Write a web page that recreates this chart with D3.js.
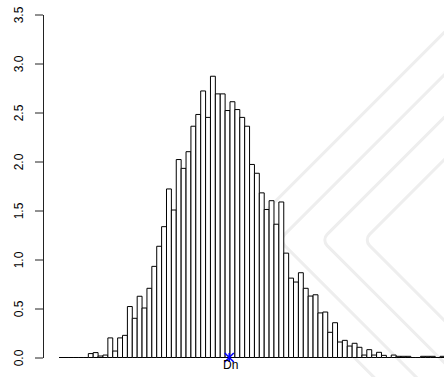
<!DOCTYPE html>
<html>
<head>
<meta charset="utf-8">
<script src="https://cdn.jsdelivr.net/npm/d3@7"></script>
<style>
  html, body { margin: 0; padding: 0; background: #fff; }
  svg { display: block; font-family: "Liberation Sans", Arial, sans-serif; }
</style>
</head>
<body>
<div id="chart"></div>
<script>
// histogram densities, one per bin
var densities = [
  0, 0, 0, 0, 0, 0,
  0.04, 0.05, 0.015, 0.025, 0.20, 0.066, 0.20, 0.226, 0.52, 0.40,
  0.625, 0.505, 0.706, 0.93, 1.135, 1.335, 1.72, 1.505, 2.02, 1.93,
  2.10, 2.36, 2.48, 2.72, 2.45, 2.87, 2.69, 2.69, 2.52, 2.61,
  2.53, 2.45, 2.36, 1.97, 1.88, 1.68, 1.51, 1.60, 1.36, 1.587,
  1.065, 0.81, 0.77, 0.865, 0.706, 0.627, 0.64, 0.455, 0.464, 0.257,
  0.355, 0.158, 0.175, 0.117, 0.145, 0.104, 0.025, 0.08, 0.025, 0.053,
  0.022, 0, 0.025, 0.012, 0.012, 0.012, 0, 0, 0.012, 0.012,
  0.012, 0, 0.012
];
var yTicks = [0, 0.5, 1.0, 1.5, 2.0, 2.5, 3.0, 3.5];
var dnLabel = "Dn";
var dnPosition = 34.85;   // in bin units

var width = 444, height = 377;

var svg = d3.select('#chart').append('svg')
  .attr('width', width)
  .attr('height', height);

// faint watermark in the background
var wm = svg.append('g')
  .attr('fill', 'none')
  .attr('stroke', '#eeeeee')
  .attr('stroke-width', 3)
  .attr('transform', 'translate(470,240) rotate(45)');
[165, 135, 105, 75].forEach(function(s) {
  wm.append('rect')
    .attr('x', -s).attr('y', -s)
    .attr('rx', 8)
    .attr('width', 2 * s).attr('height', 2 * s);
});

var x = d3.scaleLinear()
  .domain([0, densities.length])
  .range([59, 59 + densities.length * 4.886]);

var y = d3.scaleLinear()
  .domain([0, 3.5])
  .range([357.5, 14.5]);

// bars (paths so that empty bins still show as a line)
svg.append('g')
  .selectAll('path')
  .data(densities)
  .enter().append('path')
  .attr('d', function(d, i) {
    var x0 = x(i), x1 = x(i + 1);
    return 'M' + x0 + ',' + y(0) + 'V' + y(d) + 'H' + x1 + 'V' + y(0) + 'Z';
  })
  .attr('fill', '#fff')
  .attr('stroke', '#000')
  .attr('stroke-width', 1);

// y axis
var yAxis = d3.axisLeft(y)
  .tickValues(yTicks)
  .tickFormat(d3.format('.1f'))
  .tickSize(8)
  .tickSizeOuter(0);

var ag = svg.append('g')
  .attr('transform', 'translate(43,0)')
  .call(yAxis);
ag.select('.domain').attr('stroke', '#222');
ag.selectAll('.tick line').attr('stroke', '#222');
ag.selectAll('.tick text')
  .attr('x', 0)
  .attr('dy', 0)
  .attr('text-anchor', 'middle')
  .attr('transform', 'translate(-20,0) rotate(-90)')
  .attr('fill', '#000')
  .style('font-size', '12px')
  .style('font-family', '"Liberation Sans", Arial, sans-serif');

// statistic marker
var sx = x(dnPosition), sy = y(0);
var r = 4.5;
svg.append('path')
  .attr('d', 'M' + sx + ',' + (sy - r) + 'V' + (sy + r) +
             'M' + (sx - r) + ',' + (sy - r) + 'L' + (sx + r) + ',' + (sy + r) +
             'M' + (sx - r) + ',' + (sy + r) + 'L' + (sx + r) + ',' + (sy - r))
  .attr('stroke', '#0000ff')
  .attr('stroke-width', 1.6)
  .attr('fill', 'none');

svg.append('text')
  .attr('x', sx + 1.5)
  .attr('y', 369)
  .attr('text-anchor', 'middle')
  .style('font-size', '12px')
  .text(dnLabel);
</script>
</body>
</html>
